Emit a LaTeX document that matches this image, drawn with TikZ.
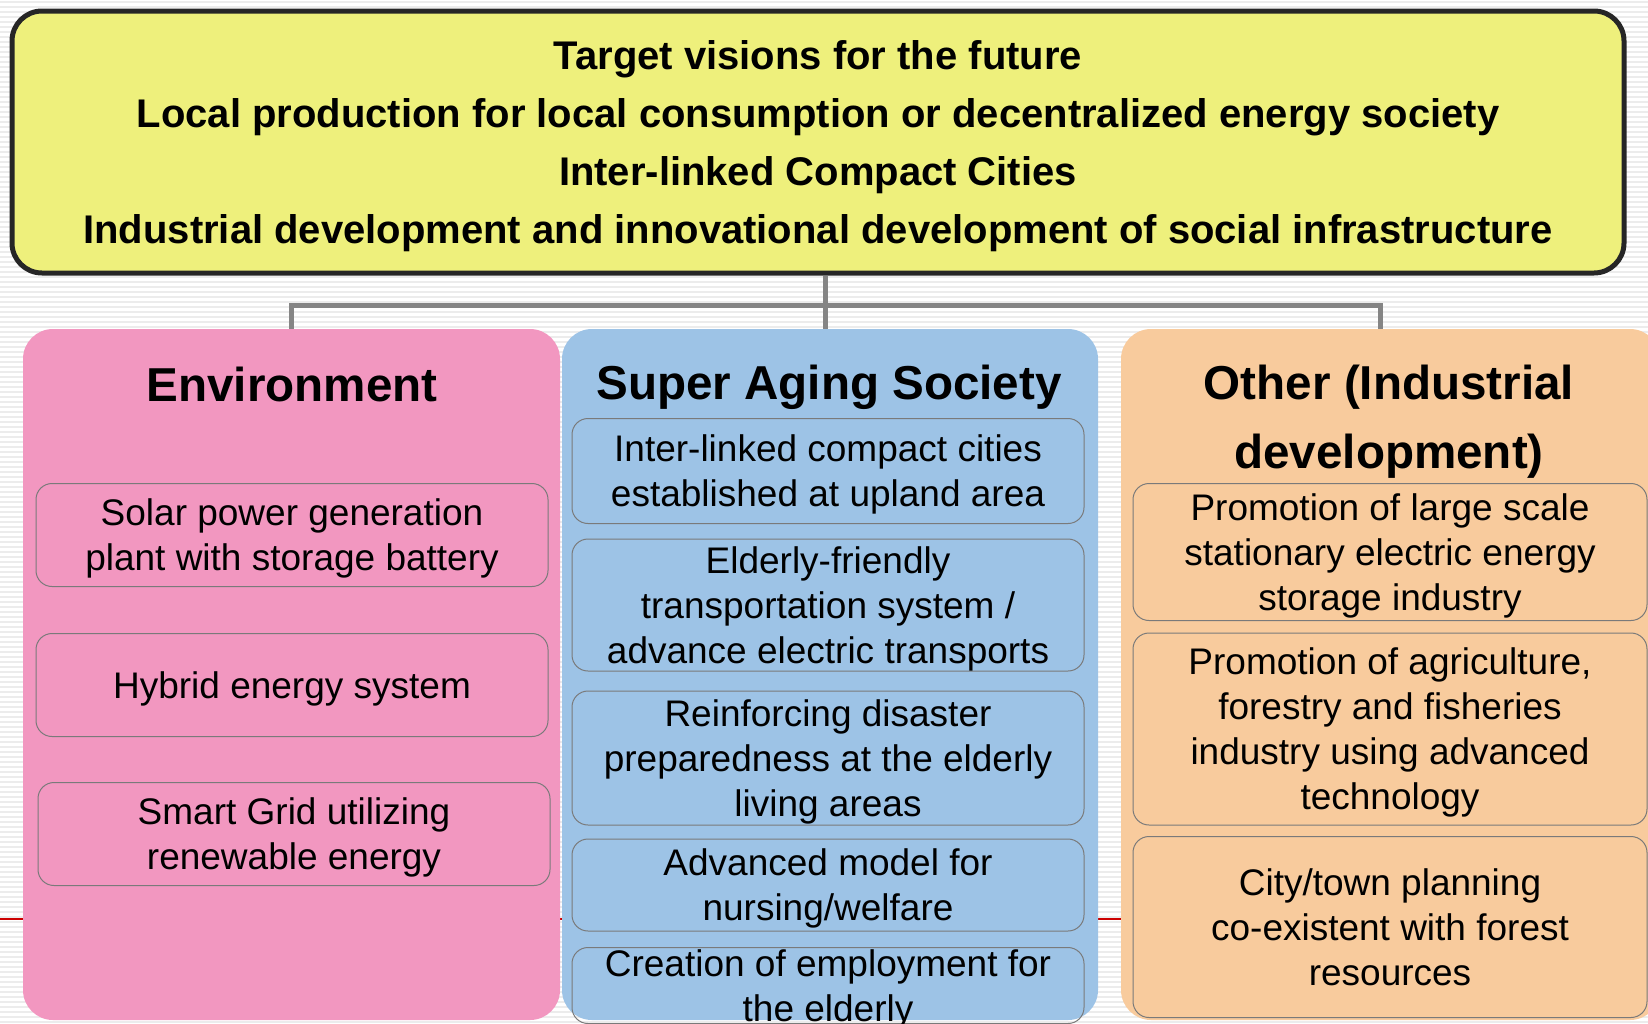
\documentclass[tikz,border=0pt]{standalone}
\usepackage{fontspec}
\setmainfont{Liberation Sans}
\usetikzlibrary{fit}
\definecolor{visionyellow}{HTML}{EEF07C}
\definecolor{envpink}{HTML}{F297C0}
\definecolor{agingblue}{HTML}{9DC3E6}
\definecolor{otherorange}{HTML}{F8CB9D}
\definecolor{linkgray}{HTML}{858585}
\definecolor{boxgray}{HTML}{7A7A7A}
\begin{document}
\begin{tikzpicture}[x=0.5pt,y=-0.5pt,
    vision/.style={rectangle,rounded corners=15pt,draw=black!85,line width=2.5pt,fill=visionyellow,
      align=center,font=\fontsize{20}{29}\selectfont\bfseries,text depth=0.2pt},
    panel/.style={rectangle,rounded corners=15pt,inner sep=0pt},
    head/.style={align=center,font=\fontsize{23.8}{34.5}\selectfont\bfseries},
    item/.style={rectangle,rounded corners=8pt,draw=boxgray,line width=0.5pt,align=center,
      inner sep=0pt,minimum width=256pt,font=\fontsize{18.5}{22.5}\selectfont,text depth=-0.8pt},
    link/.style={draw=linkgray,line width=2.5pt}]
  \useasboundingbox (0,0) rectangle (1648,1023);
  % striped background
  \foreach \y in {2,7,...,1022}
    \draw[gray!15,line width=1pt] (0,\y) -- (1648,\y);
  \draw[red!80!black,line width=0.6pt] (0,919) -- (1648,919);

  \node[vision,minimum width=806pt,minimum height=131pt] (visions) at (818,142)
    {Target visions for the future\\
     Local production for local consumption or decentralized energy society\\
     Inter-linked Compact Cities\\
     Industrial development and innovational development of social infrastructure};

  \node[panel,fill=envpink,fit={(23,329) (560,1020)}] (env) {};
  \node[panel,fill=agingblue,fit={(562,329) (1098,1020)}] (aging) {};
  \node[panel,fill=otherorange,fit={(1121,329) (1660,1020)}] (other) {};

  \coordinate (bus) at (825,305);
  \coordinate (otherjoint) at (1380,305);
  \draw[link] (visions.south -| bus) -- (bus |- aging.north);
  \draw[link] (env.north) |- (bus) -- (otherjoint) -- (otherjoint |- other.north);

  % Environment
  \node[head] (envhead) at (292,384) {Environment};
  \node[item,minimum height=51.5pt] (solar) at (292,535) {Solar power generation\\plant with storage battery};
  \node[item,minimum height=51.5pt] (hybrid) at (292,685) {Hybrid energy system};
  \node[item,minimum height=51.5pt] (grid) at (294,834) {Smart Grid utilizing\\renewable energy};

  % Super Aging Society
  \node[head] (aginghead) at (829,387) {Super Aging Society};
  \node[item,minimum height=52.5pt] (compact) at (828,471) {Inter-linked compact cities\\established at upland area};
  \node[item,minimum height=66pt] (transport) at (828,605) {Elderly-friendly\\transportation system /\\advance electric transports};
  \node[item,minimum height=67pt] (disaster) at (828,758) {Reinforcing disaster\\preparedness at the elderly\\living areas};
  \node[item,minimum height=46pt] (nursing) at (828,885) {Advanced model for\\nursing/welfare};
  \node[item,minimum height=38pt,anchor=north] (employ) at (828,947) {Creation of employment for\\the elderly};

  % Other (Industrial development)
  \node[head] (otherhead) at (1389,422) {Other (Industrial\\development)};
  \node[item,minimum width=257pt,minimum height=68.5pt] (storage) at (1390,552) {Promotion of large scale\\stationary electric energy\\storage industry};
  \node[item,minimum width=257pt,minimum height=96pt] (agri) at (1390,729) {Promotion of agriculture,\\forestry and fisheries\\industry using advanced\\technology};
  \node[item,minimum width=257pt,minimum height=90.5pt] (forest) at (1390,927) {City/town planning\\co-existent with forest\\resources};
\end{tikzpicture}
\end{document}
